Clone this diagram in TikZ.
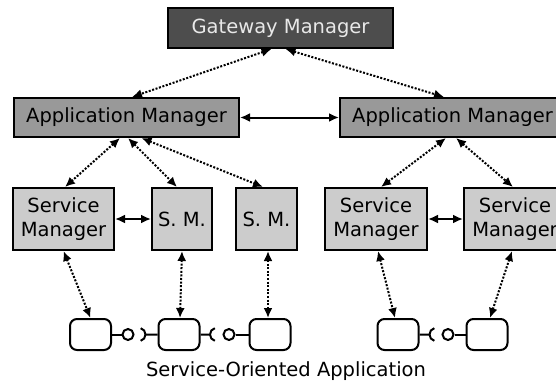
\documentclass[tikz,border=0pt]{standalone}
\usepackage{fontspec}
\setmainfont{DejaVu Sans}
\usetikzlibrary{arrows.meta}
\definecolor{gwgray}{HTML}{4D4D4D}
\definecolor{gwtext}{HTML}{E8E8E8}
\definecolor{amgray}{HTML}{999999}
\definecolor{smgray}{HTML}{CCCCCC}
\begin{document}
\begin{tikzpicture}[x=1pt,y=-1pt,
  lbl/.style={font=\fontsize{19.5pt}{23.5pt}\selectfont},
  box/.style={lbl, draw=black, line width=2pt, inner sep=0pt, align=center},
  gwbox/.style={box, fill=gwgray, text=gwtext, minimum width=225pt, minimum height=40pt},
  ambox/.style={box, fill=amgray, minimum width=225pt, minimum height=39pt},
  smbox/.style={box, fill=smgray, minimum height=62pt},
  sbox/.style={draw=black, line width=2pt, rounded corners=7pt, fill=white, minimum width=41pt, minimum height=31pt, inner sep=0pt},
  ball/.style={circle, draw=black, line width=2pt, minimum size=11pt, inner sep=0pt, fill=white},
  tip/.tip={Latex[length=10pt,width=9pt]},
  dotarrow/.style={line width=2pt, dash pattern=on 2pt off 1.6pt, {tip}-{tip}},
  solarrow/.style={line width=2pt, {tip}-{tip}},
  conn/.style={line width=2pt}
]
\useasboundingbox (0,0) rectangle (556,383);
\clip (0,0) rectangle (556,383);
% managers
\node[gwbox] (gw) at (280.5,28) {Gateway Manager};
\node[ambox] (aml) at (126.5,117.5) {Application Manager};
\node[ambox] (amr) at (452.5,117.5) {Application Manager};
\node[smbox, minimum width=101pt] (sm1) at (63.5,219) {Service\\Manager};
\node[smbox, minimum width=60pt] (sm2) at (182,219) {S. M.};
\node[smbox, minimum width=61pt] (sm3) at (266.5,219) {S. M.};
\node[smbox, minimum width=102pt] (smr1) at (376,219) {Service\\Manager};
\node[smbox, minimum width=102pt] (smr2) at (515,219) {Service\\Manager};
% services
\node[sbox] (b1) at (90.5,334.5) {};
\node[sbox] (b2) at (179,334.5) {};
\node[sbox] (b3) at (270,334.5) {};
\node[sbox] (b4) at (398,334.5) {};
\node[sbox] (b5) at (487,334.5) {};
\node[ball] (ball1) at (128,334.5) {};
\node[ball] (ball2) at (229,334.5) {};
\node[ball] (ball3) at (448,334.5) {};
\node[lbl, anchor=base] (soa) at (286,376) {Service-Oriented Application};
% dotted links
\draw[dotarrow] ([xshift=-9pt]gw.south) -- ([xshift=5.5pt]aml.north);
\draw[dotarrow] ([xshift=5pt]gw.south) -- ([xshift=-8.5pt]amr.north);
\draw[solarrow] (aml.east) -- (amr.west);
\draw[dotarrow] ([xshift=-6.5pt]aml.south) -- ([xshift=1.5pt]sm1.north);
\draw[dotarrow] ([xshift=1.5pt]aml.south) -- ([xshift=-5pt]sm2.north);
\draw[dotarrow] ([xshift=15pt]aml.south) -- ([xshift=-3.5pt]sm3.north);
\draw[dotarrow] ([xshift=-6.5pt]amr.south) -- ([xshift=5pt]smr1.north);
\draw[dotarrow] ([xshift=3.5pt]amr.south) -- ([xshift=-2pt]smr2.north);
\draw[solarrow] (sm1.east) -- (sm2.west);
\draw[solarrow] (smr1.east) -- (smr2.west);
\draw[dotarrow] (sm1.south) -- (b1.north);
\draw[dotarrow] (sm2.south) -- ([xshift=1pt]b2.north);
\draw[dotarrow] ([xshift=1.5pt]sm3.south) -- ([xshift=-2pt]b3.north);
\draw[dotarrow] ([xshift=2pt]smr1.south) -- ([xshift=-3pt]b4.north);
\draw[dotarrow] ([xshift=-3pt]smr2.south) -- ([xshift=3pt]b5.north);
% ball and socket links
\draw[conn] (b1) -- (ball1);
\draw[conn] (b2.west) -- ++(-12,0) coordinate (s1) arc[start angle=0,end angle=75,radius=6.5pt];
\draw[conn] (s1) arc[start angle=0,end angle=-75,radius=6.5pt];
\draw[conn] (b2.east) -- ++(9.5,0) coordinate (s2) arc[start angle=180,end angle=105,radius=6.5pt];
\draw[conn] (s2) arc[start angle=180,end angle=255,radius=6.5pt];
\draw[conn] (ball2) -- (b3);
\draw[conn] (b4.east) -- ++(10,0) coordinate (s3) arc[start angle=180,end angle=105,radius=6.5pt];
\draw[conn] (s3) arc[start angle=180,end angle=255,radius=6.5pt];
\draw[conn] (ball3) -- (b5);
\end{tikzpicture}
\end{document}
